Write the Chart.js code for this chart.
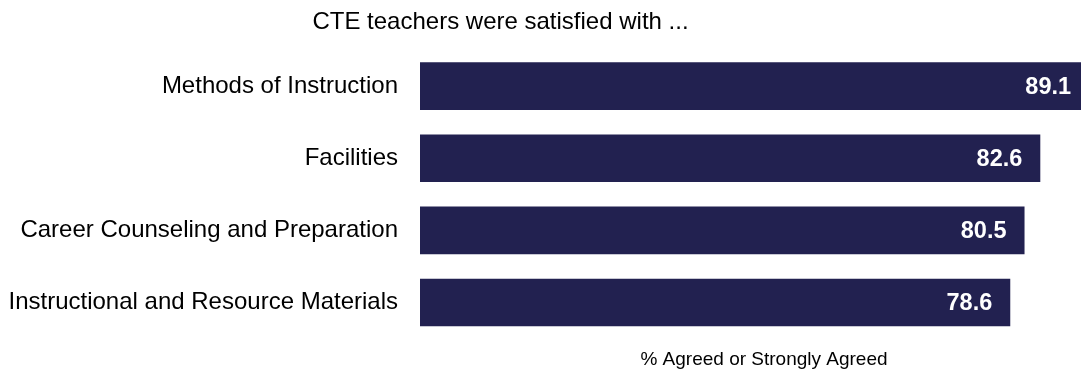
<!DOCTYPE html>
<html>
<head>
<meta charset="utf-8">
<script src="https://cdn.jsdelivr.net/npm/chart.js@4.4.1/dist/chart.umd.min.js"></script>
<style>
  html, body { margin: 0; padding: 0; background: #ffffff; }
  #wrap { width: 1081px; height: 375px; position: relative; }
</style>
</head>
<body>
<div id="wrap"><canvas id="c"></canvas></div>
<script>
const categories = [
  "Methods of Instruction",
  "Facilities",
  "Career Counseling and Preparation",
  "Instructional and Resource Materials"
];
const values = [89.1, 82.6, 80.5, 78.6];
const chartTitle = "CTE teachers were satisfied with ...";
const axisTitle = "% Agreed or Strongly Agreed";

const FONT = "'Liberation Sans', Arial, sans-serif";
const BAR_COLOR = "#222150";

const textPlugin = {
  id: 'textPlugin',
  afterDatasetsDraw(chart) {
    const ctx = chart.ctx;
    const meta = chart.getDatasetMeta(0);
    ctx.save();
    ctx.fillStyle = '#ffffff';
    ctx.font = "bold 23.5px " + FONT;
    ctx.textAlign = 'right';
    ctx.textBaseline = 'middle';
    meta.data.forEach((bar, i) => {
      ctx.fillText(values[i].toFixed(1), bar.x - 18, bar.y + 1);
    });
    ctx.fillStyle = '#000000';
    ctx.textAlign = 'center';
    ctx.textBaseline = 'alphabetic';
    ctx.font = "24px " + FONT;
    ctx.fillText(chartTitle, 500.5, 28.5);
    ctx.font = "19px " + FONT;
    ctx.fillText(axisTitle, 764, 364.5);
    ctx.restore();
  }
};

new Chart(document.getElementById('c'), {
  type: 'bar',
  data: {
    labels: categories,
    datasets: [{
      data: values,
      backgroundColor: BAR_COLOR,
      borderWidth: 0,
      barPercentage: 0.661,
      categoryPercentage: 1.0
    }]
  },
  options: {
    indexAxis: 'y',
    responsive: true,
    maintainAspectRatio: false,
    animation: false,
    layout: { padding: { top: 50, bottom: 34.5, left: 0, right: 0 } },
    plugins: {
      legend: { display: false },
      tooltip: { enabled: false },
      title: { display: false }
    },
    scales: {
      x: {
        display: false,
        min: 0,
        max: 88.02
      },
      y: {
        afterFit(scale) { scale.width = 420; },
        grid: { display: false, drawTicks: false, tickLength: 0 },
        border: { display: false },
        ticks: {
          color: '#000000',
          padding: 22,
          font: { family: FONT, size: 24 }
        }
      }
    }
  },
  plugins: [textPlugin]
});
</script>
</body>
</html>
